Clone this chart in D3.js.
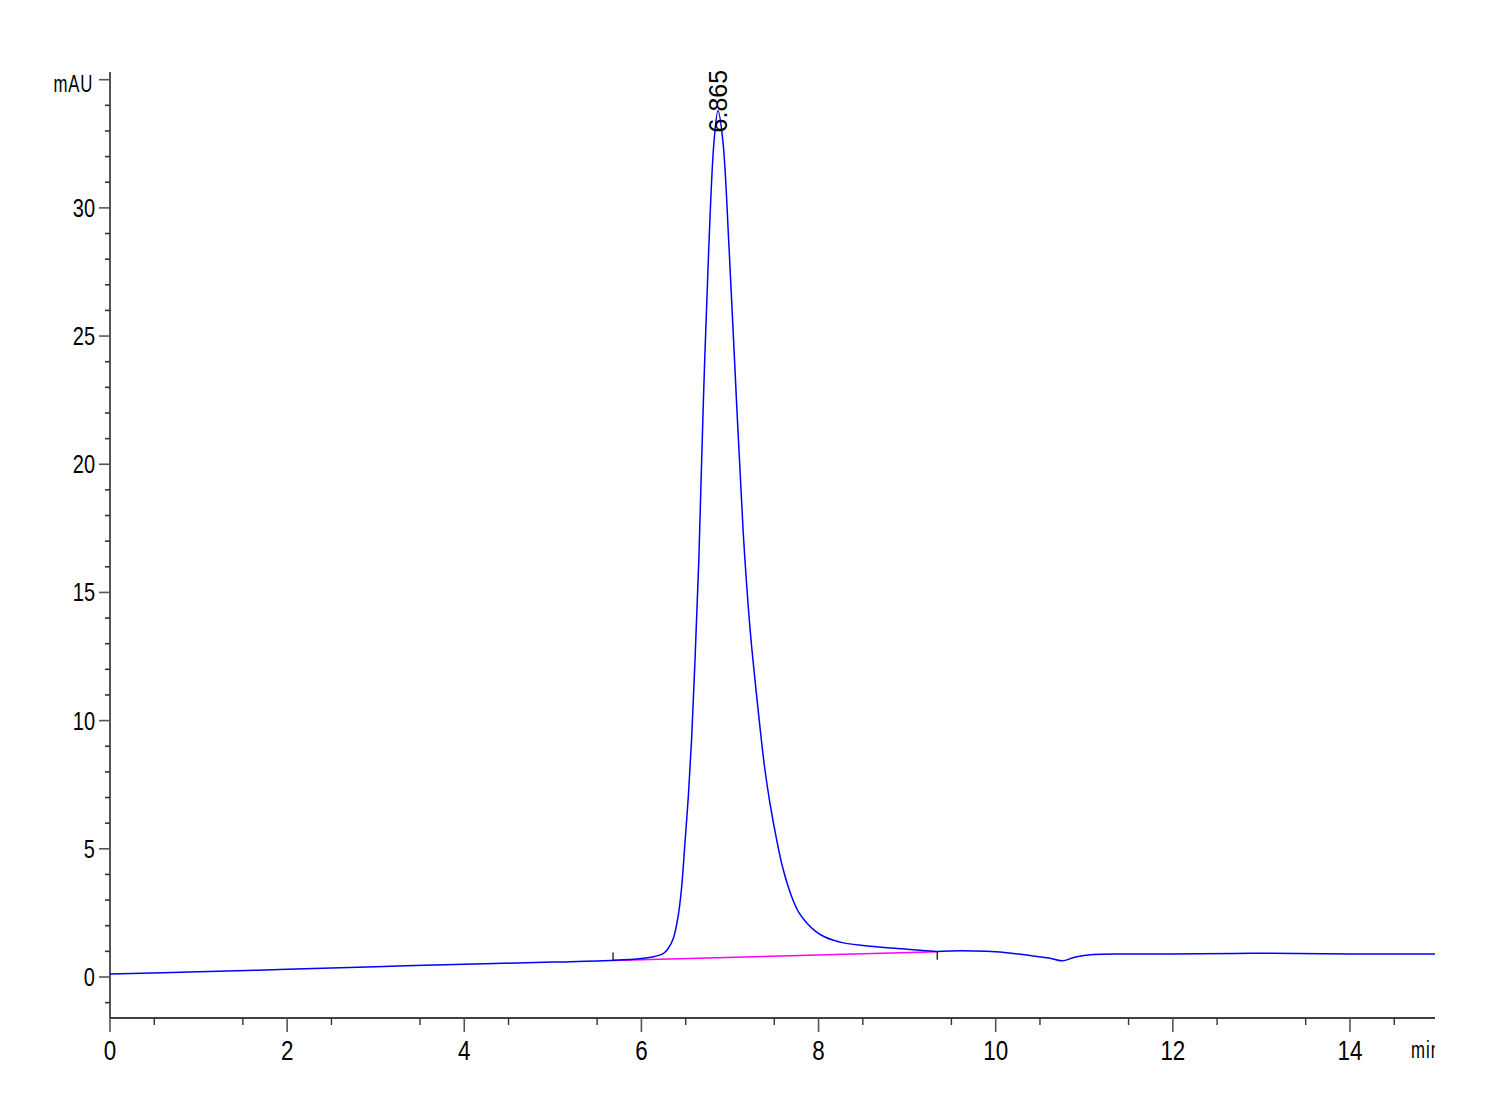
<!DOCTYPE html>
<html>
<head>
<meta charset="utf-8">
<script src="https://cdn.jsdelivr.net/npm/d3@7"></script>
<style>
  html, body { margin: 0; padding: 0; background: #fff; }
  svg { display: block; }
</style>
</head>
<body>
<svg id="chart" width="1500" height="1100"></svg>
<script>
// ---- data ----
const times = [0, 1, 2, 3, 4, 5, 5.7, 6.0, 6.15, 6.25, 6.3, 6.36, 6.416, 6.454, 6.491, 6.529, 6.567, 6.605, 6.648, 6.70, 6.76, 6.82, 6.865,
  6.92, 6.99, 7.073, 7.15, 7.226, 7.282, 7.34, 7.39, 7.45, 7.53, 7.60, 7.70, 7.78, 7.87, 7.96, 8.06, 8.17, 8.28, 8.58, 8.95, 9.3, 9.6, 9.9,
  10.2, 10.42, 10.6, 10.75, 10.9, 11.1, 11.5, 12, 12.7, 13.0, 13.4, 14, 14.96];
const signal = [0.12, 0.2, 0.3, 0.4, 0.5, 0.58, 0.65, 0.72, 0.8, 0.92, 1.1, 1.5, 2.4, 3.5, 5.2, 7.0, 9.3, 12.35, 16.25, 22.5, 28.4, 32.6, 33.8,
  32.6, 28.4, 22.5, 17.3, 13.6, 11.6, 9.7, 8.2, 6.8, 5.3, 4.2, 3.1, 2.5, 2.1, 1.8, 1.58, 1.43, 1.33, 1.2, 1.1, 1.0, 1.02, 1.0,
  0.92, 0.82, 0.74, 0.63, 0.78, 0.88, 0.9, 0.9, 0.92, 0.93, 0.92, 0.9, 0.9];
const baselineTimes = [5.68, 9.34];
const baselineValues = [0.64, 0.98];
const peakLabels = ["6.865"];
const peakTimes = [6.865];
const peakValues = [33.8];
const xTicksMajor = [0, 2, 4, 6, 8, 10, 12, 14];
const yTicksMajor = [0, 5, 10, 15, 20, 25, 30, 35];
const yTickLabels = ["0", "5", "10", "15", "20", "25", "30", ""];
const xUnit = "min";
const yUnit = "mAU";

// ---- layout ----
const svg = d3.select("#chart");
const padL = 110, padR = 1435, padT = 72, padB = 1018;
const x = d3.scaleLinear().domain([0, 14.96]).range([padL, padR]);
const y = d3.scaleLinear().domain([-1.6, 35.3]).range([padB, padT]);
const font = "'Liberation Sans', Arial, sans-serif";

svg.append("defs").append("clipPath").attr("id", "clip")
  .append("rect").attr("x", 0).attr("y", 0).attr("width", padR).attr("height", 1100);

// ---- y axis ----
const yMinor = d3.range(-1, 36, 1).filter(v => v % 5 !== 0);
const gy = svg.append("g");
gy.append("line").attr("x1", padL).attr("x2", padL).attr("y1", padT).attr("y2", padB)
  .attr("stroke", "#555").attr("stroke-width", 2);
gy.selectAll(".ymin").data(yMinor).enter().append("line")
  .attr("x1", padL - 5).attr("x2", padL).attr("y1", d => y(d)).attr("y2", d => y(d))
  .attr("stroke", "#333").attr("stroke-width", 1.6);
gy.selectAll(".ymaj").data(yTicksMajor).enter().append("line")
  .attr("x1", padL - 11).attr("x2", padL).attr("y1", d => y(d)).attr("y2", d => y(d))
  .attr("stroke", "#555").attr("stroke-width", 1.6);
gy.selectAll(".ylab").data(yTicksMajor).enter().append("text")
  .attr("transform", d => `translate(95,${y(d) + 9}) scale(0.8,1)`)
  .attr("text-anchor", "end").attr("font-family", font).attr("font-size", 25)
  .text((d, i) => yTickLabels[i]);
svg.append("text").attr("transform", "translate(93,92) scale(0.7,1)").attr("text-anchor", "end")
  .attr("font-family", font).attr("font-size", 24).attr("letter-spacing", 1).text(yUnit);

// ---- x axis ----
const xMinor = d3.range(0.5, 15, 1);
const gx = svg.append("g");
gx.append("line").attr("x1", padL).attr("x2", padR).attr("y1", padB).attr("y2", padB)
  .attr("stroke", "#000").attr("stroke-width", 1.6);
gx.selectAll(".xmin").data(xMinor).enter().append("line")
  .attr("x1", d => x(d)).attr("x2", d => x(d)).attr("y1", padB).attr("y2", padB + 7)
  .attr("stroke", "#333").attr("stroke-width", 1.4);
gx.selectAll(".xmaj").data(xTicksMajor).enter().append("line")
  .attr("x1", d => x(d)).attr("x2", d => x(d)).attr("y1", padB).attr("y2", padB + 14)
  .attr("stroke", "#555").attr("stroke-width", 1.6);
gx.selectAll(".xlab").data(xTicksMajor).enter().append("text")
  .attr("transform", d => `translate(${x(d)},1060) scale(0.8,1)`)
  .attr("text-anchor", "middle").attr("font-family", font).attr("font-size", 28)
  .text(d => d);
svg.append("g").attr("clip-path", "url(#clip)")
  .append("text").attr("transform", "translate(1411,1058) scale(0.7,1)")
  .attr("font-family", font).attr("font-size", 24).attr("letter-spacing", 1.5).text(xUnit);

// ---- baseline (integration) ----
svg.append("line")
  .attr("x1", x(baselineTimes[0])).attr("y1", y(baselineValues[0]))
  .attr("x2", x(baselineTimes[1])).attr("y2", y(baselineValues[1]))
  .attr("stroke", "#ff00ff").attr("stroke-width", 1.5);

// ---- signal ----
const line = d3.line().x((d, i) => x(times[i])).y(d => y(d)).curve(d3.curveCatmullRom.alpha(0.5));
svg.append("path").datum(signal).attr("d", line)
  .attr("fill", "none").attr("stroke", "#0000ff").attr("stroke-width", 1.5);

// ---- baseline event markers ----
svg.append("line").attr("x1", x(baselineTimes[0])).attr("x2", x(baselineTimes[0]))
  .attr("y1", y(baselineValues[0]) - 8).attr("y2", y(baselineValues[0]))
  .attr("stroke", "#000").attr("stroke-width", 1.2);
svg.append("line").attr("x1", x(baselineTimes[1])).attr("x2", x(baselineTimes[1]))
  .attr("y1", y(baselineValues[1])).attr("y2", y(baselineValues[1]) + 8)
  .attr("stroke", "#000").attr("stroke-width", 1.2);

// ---- peak label ----
svg.selectAll(".plab").data(peakLabels).enter().append("text")
  .attr("transform", (d, i) => `translate(${x(peakTimes[i]) + 9},${y(peakValues[i]) + 22}) rotate(-90)`)
  .attr("font-family", font).attr("font-size", 25)
  .text(d => d);
</script>
</body>
</html>
